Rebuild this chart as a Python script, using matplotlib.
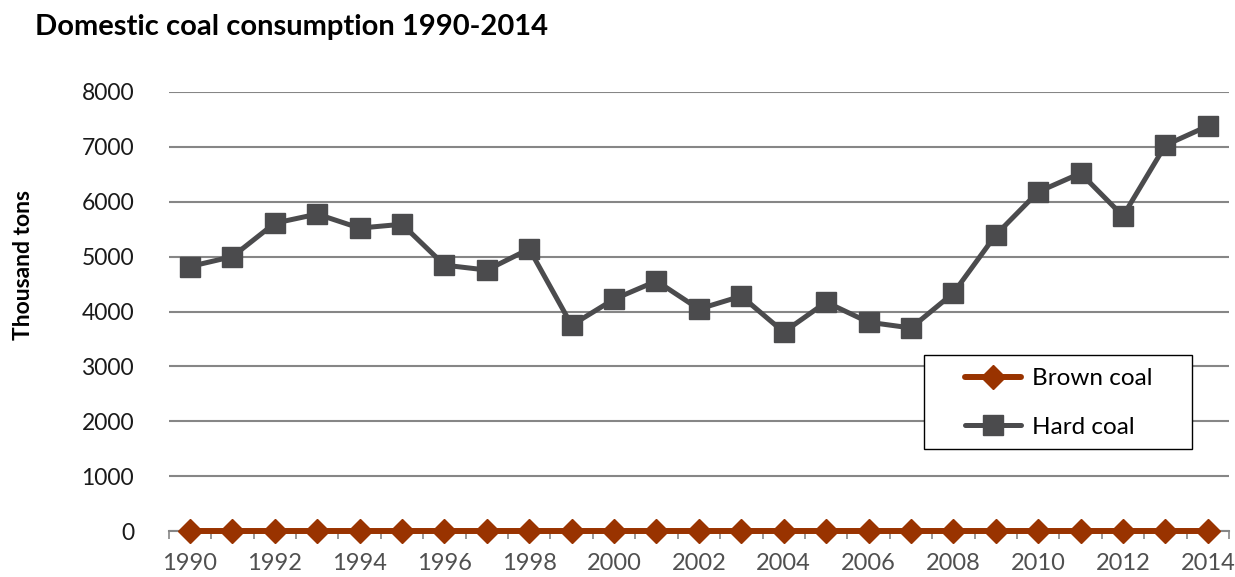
import matplotlib
matplotlib.use("Agg")
import matplotlib.pyplot as plt
from matplotlib.patches import Rectangle
import numpy as np

years = list(range(1990, 2015))
brown_coal = [0] * 25
hard_coal = [4820, 5000, 5610, 5775, 5520, 5590, 4845, 4755, 5140, 3750,
             4225, 4555, 4045, 4280, 3625, 4170, 3805, 3700, 4335, 5395,
             6180, 6520, 5740, 7030, 7380]
yticks = [0, 1000, 2000, 3000, 4000, 5000, 6000, 7000, 8000]

plt.rcParams['font.family'] = ['Lato', 'DejaVu Sans']

W, H = 1235, 577
fig = plt.figure(figsize=(W / 100, H / 100), dpi=100)
ax = fig.add_axes([168.8/W, 46/H, (1229-168.8)/W, (531-92)/H])

x = np.arange(len(years))
ax.plot(x, brown_coal, color='#993300', lw=4.3, marker='D', markersize=12,
        label='Brown coal', zorder=3, solid_capstyle='round', clip_on=False)
ax.plot(x, hard_coal, color='#4b4b4d', lw=3.6, marker='s', markersize=14,
        label='Hard coal', zorder=4, solid_capstyle='round', clip_on=False)

ax.set_xlim(-0.5, len(years) - 0.5)
ax.set_ylim(0, 8000)
ax.set_yticks(yticks)
ax.set_yticklabels([str(v) for v in yticks])
ax.yaxis.grid(True, color='#868686', lw=1.5)
ax.set_axisbelow(True)

ax.set_xticks(x[::2])
ax.set_xticklabels([str(y) for y in years[::2]])
ax.set_xticks(np.arange(-0.5, len(years), 1), minor=True)
ax.tick_params(axis='x', which='major', length=0, pad=15.5, labelsize=17, labelcolor='#505050')
ax.tick_params(axis='x', which='minor', length=6, width=1.2, color='#868686', direction='out')
ax.tick_params(axis='y', length=0, pad=25, labelsize=16.5, labelcolor='#1a1a1a')

for s in ['left', 'right', 'top']:
    ax.spines[s].set_visible(False)
ax.spines['bottom'].set_color('#868686')
ax.spines['bottom'].set_linewidth(1.5)

fig.text(35/W, 1 - 27/H, 'Domestic coal consumption 1990-2014', fontsize=21,
         fontweight='bold', va='center', ha='left')
fig.text(23/W, 1 - 265/H, 'Thousand tons', fontsize=16.5, fontweight='bold',
         rotation=90, va='center', ha='center')

# legend box
box = Rectangle((924/W, 1 - 449/H), (1192-924)/W, (449-355)/H,
                transform=fig.transFigure, facecolor='white',
                edgecolor='black', lw=1.0, zorder=9, clip_on=False)
ax.add_artist(box)
leg = ax.legend(loc='center left', bbox_to_anchor=(965/W, 1 - 403/H),
                bbox_transform=fig.transFigure, borderaxespad=0, borderpad=0,
                fontsize=17.5, frameon=False,
                handlelength=2.3, labelspacing=1.12, handletextpad=0.45)
leg.set_zorder(10)

fig.savefig('out.png', dpi=100)
